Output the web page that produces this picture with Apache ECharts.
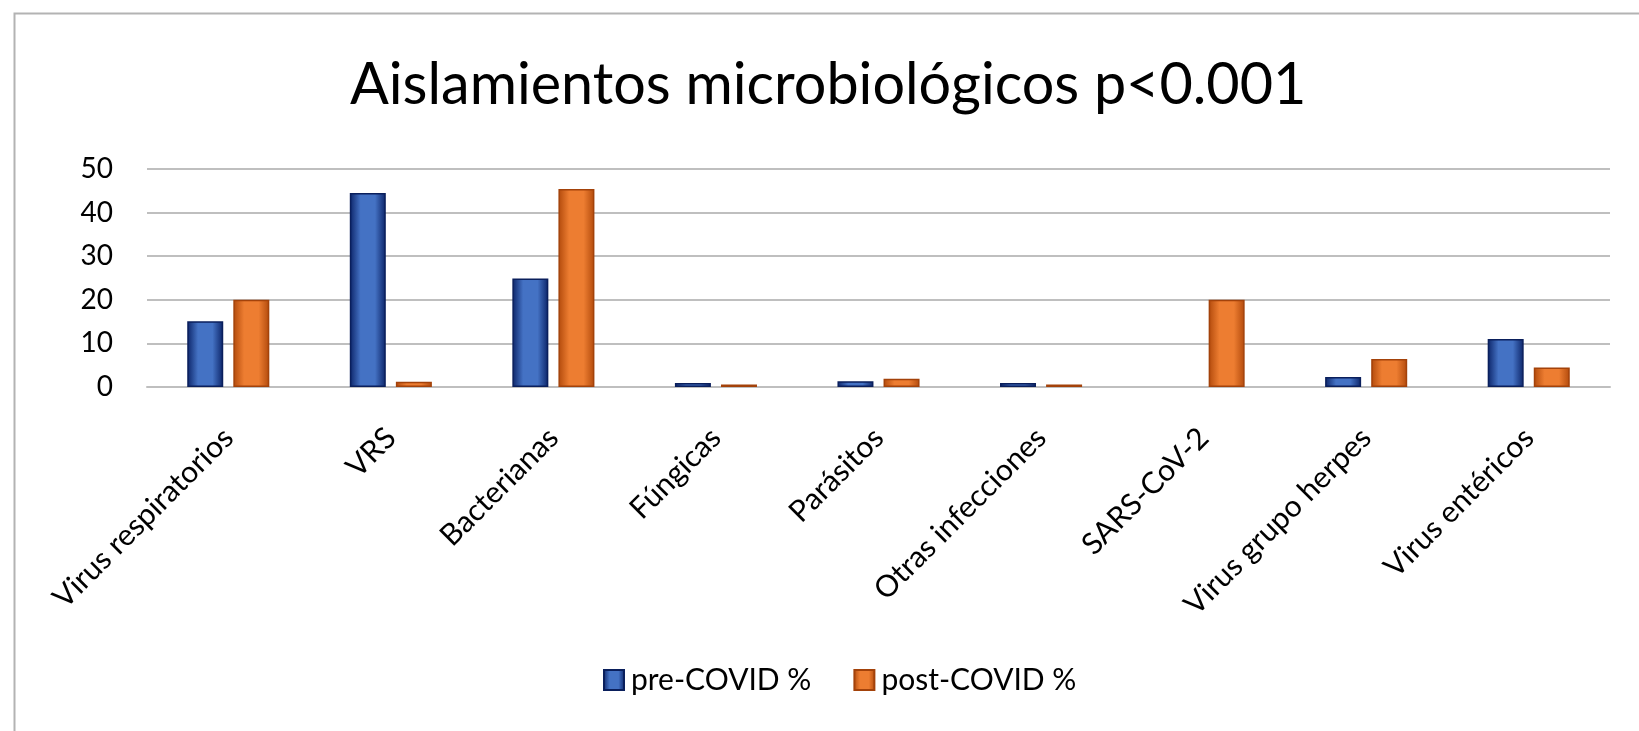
<!DOCTYPE html>
<html>
<head>
<meta charset="utf-8">
<script src="https://cdn.jsdelivr.net/npm/echarts@6/dist/echarts.min.js"></script>
<style>
  html, body { margin: 0; padding: 0; background: #fff; }
  #chart { width: 1639px; height: 731px; }
</style>
</head>
<body>
<div id="chart"></div>
<script>
// categorias y valores (%)
const categories = ['Virus respiratorios', 'VRS', 'Bacterianas', 'Fúngicas', 'Parásitos',
  'Otras infecciones', 'SARS-CoV-2', 'Virus grupo herpes', 'Virus entéricos'];
const preCovid = [15.1, 44.5, 24.9, 0.9, 1.3, 0.9, 0, 2.3, 11.0];
const postCovid = [20.0, 1.2, 45.4, 0.6, 1.9, 0.6, 20.0, 6.4, 4.5];
const yTicks = [0, 10, 20, 30, 40, 50];

const font = 'Lato, "Open Sans", sans-serif';

// degradado tipo Excel: bordes oscuros, centro claro
function barGrad(edge, mid) {
  return new echarts.graphic.LinearGradient(0, 0, 1, 0, [
    {offset: 0, color: edge},
    {offset: 0.3, color: mid},
    {offset: 0.7, color: mid},
    {offset: 1, color: edge}
  ]);
}

// sin borde en barras de valor 0 (no se dibuja nada)
function toItems(arr) {
  return arr.map(v => v === 0 ? {value: v, itemStyle: {borderWidth: 0}} : v);
}

const chart = echarts.init(document.getElementById('chart'));
chart.setOption({
  backgroundColor: '#fff',
  animation: false,
  graphic: [{
    type: 'rect',
    left: 12, top: 11,
    shape: {width: 1700, height: 800},
    style: {fill: 'none', stroke: '#b3b3b3', lineWidth: 2}
  }],
  title: {
    text: 'Aislamientos microbiológicos p<0.001',
    left: 350,
    top: 56,
    padding: 0,
    textStyle: {fontFamily: font, fontSize: 57.5, fontWeight: 'normal', color: '#000'}
  },
  legend: {
    top: 665,
    left: 603,
    padding: 0,
    itemWidth: 20,
    itemHeight: 20,
    itemGap: 42,
    icon: 'rect',
    textStyle: {fontFamily: font, fontSize: 30, color: '#000', padding: [0, 0, 0, 2]},
    data: ['pre-COVID %', 'post-COVID %']
  },
  grid: {left: 147, right: 29, top: 169, bottom: 344, containLabel: false},
  xAxis: {
    type: 'category',
    data: categories,
    axisLine: {lineStyle: {color: '#bfbfbf', width: 2}},
    axisTick: {show: false},
    axisLabel: {rotate: 45, margin: 46, fontFamily: font, fontSize: 30, color: '#000', interval: 0}
  },
  yAxis: {
    type: 'value',
    min: yTicks[0],
    max: yTicks[yTicks.length - 1],
    interval: 10,
    axisLine: {show: false},
    axisTick: {show: false},
    axisLabel: {margin: 34, fontFamily: font, fontSize: 28, color: '#000'},
    splitLine: {lineStyle: {color: '#bfbfbf', width: 2}}
  },
  series: [
    {
      name: 'pre-COVID %',
      type: 'bar',
      data: toItems(preCovid),
      barWidth: 36,
      barGap: '28%',
      itemStyle: {color: barGrad('#0c2468', '#4472c4'), borderColor: '#0a1f5c', borderWidth: 1.5}
    },
    {
      name: 'post-COVID %',
      type: 'bar',
      data: toItems(postCovid),
      barWidth: 36,
      itemStyle: {color: barGrad('#b24a0c', '#ed7d31'), borderColor: '#a3420a', borderWidth: 1.5}
    }
  ]
});
</script>
</body>
</html>
